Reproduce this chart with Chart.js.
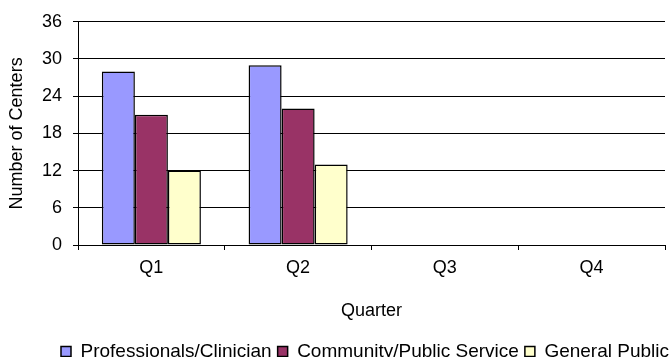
<!DOCTYPE html>
<html>
<head>
<meta charset="utf-8">
<title>Number of Centers by Quarter</title>
<script src="https://cdn.jsdelivr.net/npm/chart.js@4/dist/chart.umd.min.js"></script>
<style>
  html, body { margin: 0; padding: 0; background: #fff; overflow: hidden; }
  #wrap { position: relative; width: 671px; height: 371px; }
</style>
</head>
<body>
<div id="wrap"><canvas id="centers-chart"></canvas></div>
<script>
const quarters = ['Q1', 'Q2', 'Q3', 'Q4'];
const professionals = [28, 29, null, null];
const community = [21, 22, null, null];
const generalPublic = [12, 13, null, null];
const yTicks = [0, 6, 12, 18, 24, 30, 36];

Chart.defaults.font.family = '"Liberation Sans", Arial, sans-serif';
Chart.defaults.color = '#000';

const series = [
  { label: 'Professionals/Clinician', data: professionals, fill: '#9999FF' },
  { label: 'Community/Public Service', data: community, fill: '#993366' },
  { label: 'General Public', data: generalPublic, fill: '#FFFFCC' },
];

// nudge the legend row to the right so it sits under the plot like the original sheet
const legendShift = {
  id: 'legendShift',
  afterLayout(chart) {
    const lg = chart.legend;
    if (!lg) return;
    lg.left += 10;
    lg.right += 10;
  },
};

new Chart(document.getElementById('centers-chart'), {
  type: 'bar',
  data: {
    labels: quarters,
    datasets: series.map((s) => ({
      label: s.label,
      data: s.data,
      backgroundColor: s.fill,
      borderColor: '#000',
      borderWidth: 1.5,
      borderSkipped: false,
      categoryPercentage: 0.675,
      barPercentage: 1,
    })),
  },
  options: {
    responsive: true,
    maintainAspectRatio: false,
    animation: false,
    events: [],
    layout: { padding: { top: 20, right: 6, left: 0, bottom: 0 } },
    scales: {
      x: {
        grid: {
          offset: true,
          drawOnChartArea: false,
          drawTicks: true,
          tickLength: 5,
          color: '#000',
        },
        border: { color: '#000', width: 1 },
        ticks: { font: { size: 18 }, padding: 7, color: '#000' },
        title: {
          display: true,
          text: 'Quarter',
          font: { size: 18 },
          color: '#000',
          padding: { top: 0, bottom: 14 },
        },
        afterFit: (scale) => { scale.height = 91; },
      },
      y: {
        min: 0,
        max: 36,
        afterBuildTicks: (scale) => { scale.ticks = yTicks.map((v) => ({ value: v })); },
        grid: { color: '#000', tickLength: 5 },
        border: { color: '#000', width: 1 },
        ticks: { font: { size: 18 }, padding: 11, color: '#000' },
        title: {
          display: true,
          text: 'Number of Centers',
          font: { size: 18 },
          color: '#000',
          padding: { top: 6, bottom: 0 },
        },
        afterFit: (scale) => { scale.width = 78; },
      },
    },
    plugins: {
      tooltip: { enabled: false },
      legend: {
        position: 'bottom',
        align: 'end',
        labels: {
          font: { size: 19 },
          color: '#000',
          boxWidth: 10,
          boxHeight: 10,
          padding: 6,
          useBorderRadius: false,
        },
      },
    },
  },
  plugins: [legendShift],
});
</script>
</body>
</html>
